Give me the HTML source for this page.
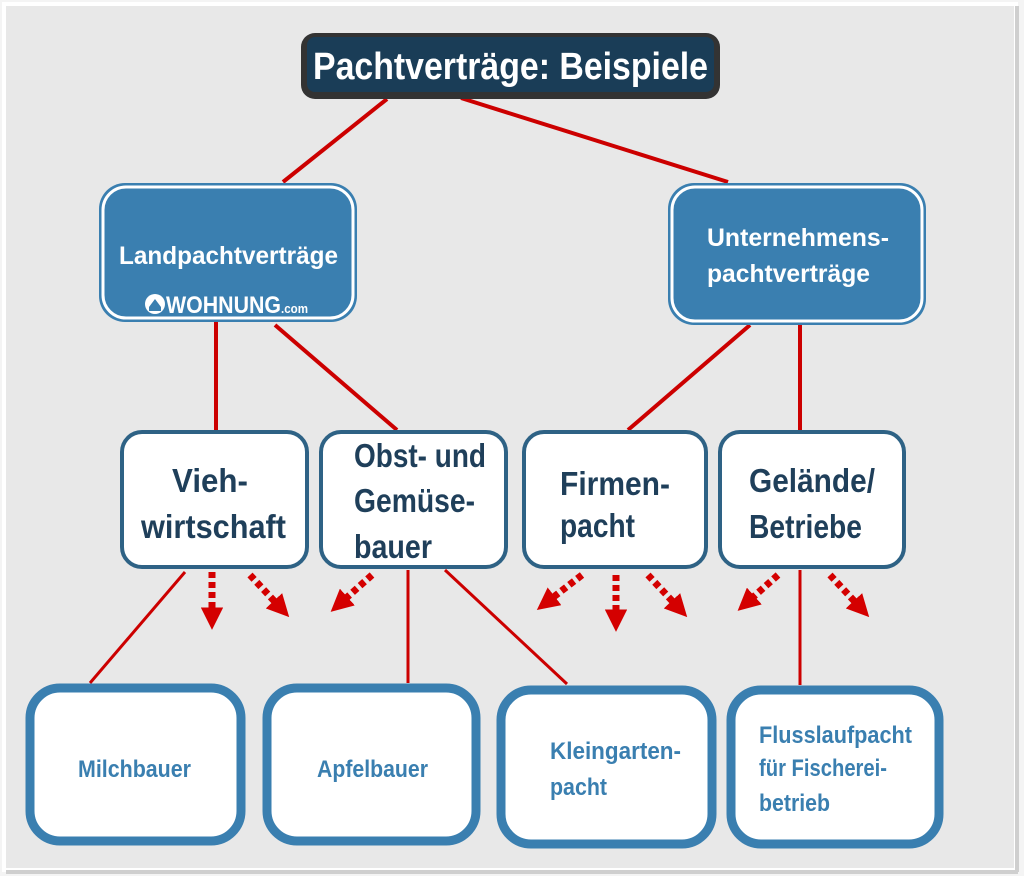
<!DOCTYPE html>
<html><head><meta charset="utf-8"><style>
html,body{margin:0;padding:0;background:#fff}
svg{display:block}
text{font-family:"Liberation Sans Narrow","Liberation Sans",sans-serif;font-weight:bold}
</style></head><body>
<svg width="1024" height="876" viewBox="0 0 1024 876" xmlns="http://www.w3.org/2000/svg">
<defs>
<marker id="ah" viewBox="0 0 10 10" refX="2" refY="5" markerWidth="3.2" markerHeight="3.2" orient="auto" markerUnits="strokeWidth">
<path d="M0,0 L10,5 L0,10 z" fill="#d40000"/></marker>
</defs>
<rect x="0" y="0" width="1024" height="876" fill="#f4f4f4"/>
<rect x="4" y="4" width="1012" height="866" fill="#e8e8e8" stroke="#fff" stroke-width="4"/>
<rect x="1015" y="6" width="4" height="866" fill="#cfcfcf"/>
<rect x="6" y="870" width="1012" height="4" fill="#cfcfcf"/>

<g stroke="#cc0000" stroke-width="4" fill="none">
<line x1="387" y1="99" x2="283" y2="182"/>
<line x1="461" y1="98" x2="728" y2="182"/>
<line x1="216" y1="322" x2="216" y2="431"/>
<line x1="275" y1="325" x2="397" y2="430"/>
<line x1="750" y1="325" x2="628" y2="430"/>
<line x1="800" y1="322" x2="800" y2="431"/>
</g>
<g stroke="#cc0000" stroke-width="3" fill="none">
<line x1="185" y1="572" x2="90" y2="683"/>
<line x1="408" y1="570" x2="408" y2="683"/>
<line x1="445" y1="570" x2="567" y2="684"/>
<line x1="800" y1="570" x2="800" y2="685"/>
</g>
<g stroke="#d40000" stroke-width="7" stroke-dasharray="6,4" fill="none" marker-end="url(#ah)">
<line x1="212" y1="572" x2="212" y2="612"/>
<line x1="250" y1="575" x2="277" y2="604"/>
<line x1="372" y1="575" x2="344" y2="600"/>
<line x1="582" y1="575" x2="551" y2="599"/>
<line x1="616" y1="575" x2="616" y2="614"/>
<line x1="648" y1="575" x2="675" y2="604"/>
<line x1="778" y1="575" x2="751" y2="599"/>
<line x1="830" y1="575" x2="857" y2="604"/>
</g>

<rect x="301" y="33" width="419" height="66" rx="14" fill="#333"/>
<rect x="307" y="37" width="407" height="55" rx="8" fill="#1a3d57"/>
<text x="313" y="79" font-size="38" fill="#fff" textLength="395" lengthAdjust="spacingAndGlyphs">Pachtverträge: Beispiele</text>

<rect x="99" y="183" width="258" height="139" rx="26" fill="#3a7fb0"/>
<rect x="103" y="187" width="250" height="131" rx="23" fill="none" stroke="#fff" stroke-width="3"/>
<text x="119" y="264" font-size="25" fill="#fff" textLength="219" lengthAdjust="spacingAndGlyphs">Landpachtverträge</text>
<circle cx="155" cy="304" r="10" fill="#fff"/><path d="M149,307 L155,299 L161,307 L161,311 L149,311z" fill="#3a7fb0"/>
<text x="166" y="313" font-size="24" fill="#fff" textLength="142" lengthAdjust="spacingAndGlyphs">WOHNUNG<tspan font-size="13">.com</tspan></text>

<rect x="668" y="183" width="258" height="142" rx="26" fill="#3a7fb0"/>
<rect x="672" y="187" width="250" height="134" rx="23" fill="none" stroke="#fff" stroke-width="3"/>
<text x="707" y="246" font-size="25" fill="#fff" textLength="182" lengthAdjust="spacingAndGlyphs">Unternehmens-</text>
<text x="707" y="282" font-size="25" fill="#fff" textLength="163" lengthAdjust="spacingAndGlyphs">pachtverträge</text>

<g fill="#fff" stroke="#2e6285" stroke-width="4">
<rect x="122" y="432" width="185" height="135" rx="20"/>
<rect x="321" y="432" width="185" height="135" rx="20"/>
<rect x="524" y="432" width="182" height="135" rx="20"/>
<rect x="720" y="432" width="184" height="135" rx="20"/>
</g>
<g font-size="33" fill="#1f3f5a">
<text x="172" y="492" textLength="76" lengthAdjust="spacingAndGlyphs">Vieh-</text>
<text x="141" y="538" textLength="145" lengthAdjust="spacingAndGlyphs">wirtschaft</text>
<text x="354" y="467" textLength="132" lengthAdjust="spacingAndGlyphs">Obst- und</text>
<text x="354" y="512" textLength="121" lengthAdjust="spacingAndGlyphs">Gemüse-</text>
<text x="354" y="558" textLength="78" lengthAdjust="spacingAndGlyphs">bauer</text>
<text x="560" y="495" textLength="110" lengthAdjust="spacingAndGlyphs">Firmen-</text>
<text x="560" y="537" textLength="75" lengthAdjust="spacingAndGlyphs">pacht</text>
<text x="749" y="492" textLength="126" lengthAdjust="spacingAndGlyphs">Gelände/</text>
<text x="749" y="538" textLength="113" lengthAdjust="spacingAndGlyphs">Betriebe</text>
</g>

<g fill="#fff" stroke="#3a7fb0" stroke-width="9">
<rect x="30" y="688" width="211" height="153" rx="30"/>
<rect x="267" y="688" width="209" height="153" rx="30"/>
<rect x="501" y="690" width="211" height="154" rx="30"/>
<rect x="731" y="690" width="208" height="154" rx="30"/>
</g>
<g font-size="24" fill="#3a7fb0">
<text x="78" y="777" textLength="113" lengthAdjust="spacingAndGlyphs">Milchbauer</text>
<text x="317" y="777" textLength="111" lengthAdjust="spacingAndGlyphs">Apfelbauer</text>
<text x="550" y="759" textLength="131" lengthAdjust="spacingAndGlyphs">Kleingarten-</text>
<text x="550" y="795" textLength="57" lengthAdjust="spacingAndGlyphs">pacht</text>
<text x="759" y="743" textLength="153" lengthAdjust="spacingAndGlyphs">Flusslaufpacht</text>
<text x="759" y="776" textLength="128" lengthAdjust="spacingAndGlyphs">für Fischerei-</text>
<text x="759" y="811" textLength="71" lengthAdjust="spacingAndGlyphs">betrieb</text>
</g>
</svg>
</body></html>
